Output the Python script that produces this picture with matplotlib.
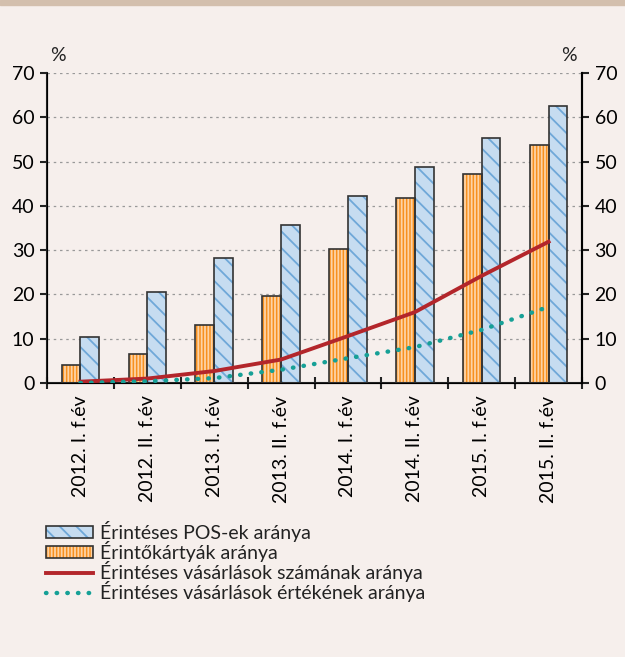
import matplotlib
matplotlib.use("Agg")
import matplotlib.pyplot as plt
import numpy as np
from matplotlib.patches import Patch
from matplotlib.lines import Line2D
from matplotlib.legend_handler import HandlerTuple

# adatok
kategoriak = ['2012. I. f.év', '2012. II. f.év', '2013. I. f.év', '2013. II. f.év',
              '2014. I. f.év', '2014. II. f.év', '2015. I. f.év', '2015. II. f.év']
pos_arany = [10.5, 20.6, 28.2, 35.6, 42.3, 48.7, 55.3, 62.6]
kartya_arany = [4.0, 6.5, 13.0, 19.7, 30.3, 41.7, 47.3, 53.7]
vasarlas_szam = [0.3, 1.0, 2.7, 5.3, 10.6, 16.0, 24.2, 31.9]
vasarlas_ertek = [0.0, 0.4, 1.1, 3.0, 5.6, 8.1, 12.0, 17.2]
y_ticks = [0, 10, 20, 30, 40, 50, 60, 70]

bg = '#f6efec'
kek = '#c6dcf0'
kek_vonal = '#6fa8d8'
narancs = '#f7901e'
narancs_csik = '#fdd3a6'
piros = '#b3262b'
turkiz = '#16a096'
el = '#333333'

plt.rcParams['font.family'] = ['Lato', 'DejaVu Sans']
plt.rcParams['hatch.linewidth'] = 1.3
plt.rcParams['text.color'] = '#222222'
fs = 14

fig = plt.figure(figsize=(6.25, 6.57), dpi=100, facecolor=bg)
# felső sáv
fig.patches.append(plt.Rectangle((0, 1 - 5 / 657), 1, 5 / 657, transform=fig.transFigure,
                                 color='#d3bfad', zorder=0))

ax = fig.add_axes([47 / 625, 1 - 383 / 657, 535 / 625, 310 / 657])
ax.set_facecolor(bg)
x = np.arange(len(kategoriak))
w = 0.28

# oszlopok: előbb a sraffozott kitöltés, utána a keret
ax.bar(x - w / 2, kartya_arany, w, color=narancs, edgecolor=narancs_csik, hatch='|||||',
       linewidth=0, zorder=2)
ax.bar(x - w / 2, kartya_arany, w, fill=False, edgecolor=el, linewidth=1.2, zorder=3)
ax.bar(x + w / 2, pos_arany, w, color=kek, edgecolor=kek_vonal, hatch='\\\\',
       linewidth=0, zorder=2)
ax.bar(x + w / 2, pos_arany, w, fill=False, edgecolor=el, linewidth=1.2, zorder=3)

ax.set_xlim(-0.5, len(kategoriak) - 0.5)
ax.set_ylim(0, 70)
ax.set_yticks(y_ticks)
ax.yaxis.grid(True, linestyle=(0, (2, 3)), color='#999999', linewidth=0.9)
ax.set_axisbelow(True)
ax.set_xticks(x)
ax.set_xticklabels(kategoriak, rotation=90, fontsize=fs)
ax.set_xticks(np.arange(len(kategoriak) + 1) - 0.5, minor=True)
ax.tick_params(axis='x', which='major', length=0, pad=9)
ax.tick_params(axis='x', which='minor', length=8, width=1.5, direction='inout', color='#222222')
ax.tick_params(axis='y', labelsize=fs, length=5, width=1.5, color='#222222', pad=4)
for s in ['top']:
    ax.spines[s].set_visible(False)
for s in ['left', 'right', 'bottom']:
    ax.spines[s].set_linewidth(1.5)
    ax.spines[s].set_color('#222222')

ax2 = ax.twinx()
ax2.set_ylim(0, 70)
ax2.set_yticks(y_ticks)
ax2.tick_params(axis='y', labelsize=fs, length=5, width=1.5, color='#222222', pad=4)
ax2.spines['top'].set_visible(False)
ax2.spines['right'].set_linewidth(1.5)
ax2.plot(x, vasarlas_szam, color=piros, linewidth=2.8, zorder=4)
ax2.plot(x, vasarlas_ertek, color=turkiz, linewidth=3.2, linestyle=(0, (0.1, 2.3)),
         dash_capstyle='round', zorder=4)

ax.text(0.005, 1.03, '%', transform=ax.transAxes, fontsize=fs, ha='left', va='bottom')
ax.text(0.99, 1.03, '%', transform=ax.transAxes, fontsize=fs, ha='right', va='bottom')

handles = [
    (Patch(facecolor=kek, edgecolor=kek_vonal, hatch='\\\\', linewidth=0),
     Patch(fill=False, edgecolor=el, linewidth=1.2)),
    (Patch(facecolor=narancs, edgecolor=narancs_csik, hatch='|||||', linewidth=0),
     Patch(fill=False, edgecolor=el, linewidth=1.2)),
    Line2D([], [], color=piros, linewidth=2.8),
    Line2D([], [], color=turkiz, linewidth=3.2, linestyle=(0, (0.1, 2.3)), dash_capstyle='round'),
]
labels = ['Érintéses POS-ek aránya', 'Érintőkártyák aránya',
          'Érintéses vásárlások számának aránya', 'Érintéses vásárlások értékének aránya']
fig.legend(handles, labels, loc='upper left', bbox_to_anchor=(46 / 625, 1 - 521 / 657),
           frameon=False, fontsize=fs, handlelength=2.4, handleheight=0.6, handletextpad=0.4,
           labelspacing=-0.05, borderpad=0, borderaxespad=0,
           handler_map={tuple: HandlerTuple(ndivide=1)})

fig.savefig('out.png', dpi=100, facecolor=bg)
